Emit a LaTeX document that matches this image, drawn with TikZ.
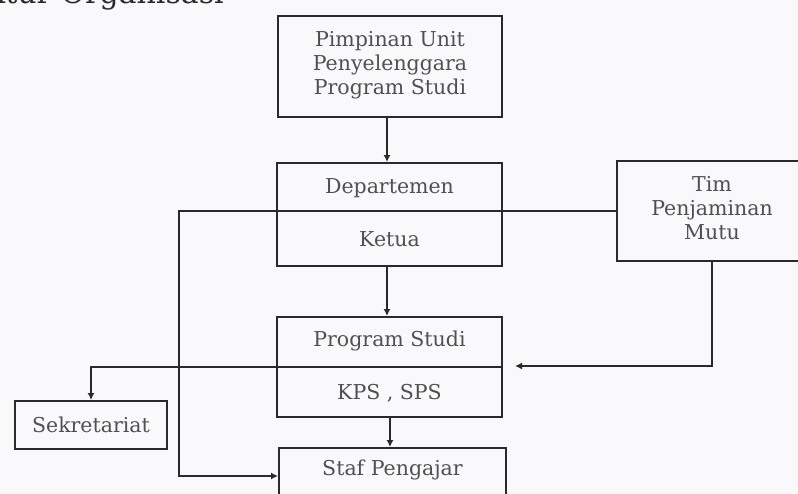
\documentclass[tikz,border=0pt]{standalone}
\usepackage{fontspec}
\setmainfont{DejaVu Serif}
\usetikzlibrary{arrows.meta,positioning}
\definecolor{ink}{HTML}{2A2A2A}
\definecolor{txt}{HTML}{505050}
\definecolor{paper}{HTML}{F9F9FB}
\tikzset{
  box/.style={draw=ink, line width=1.9pt, rectangle, inner sep=0pt},
  lbl/.style={text=txt, font=\fontsize{20.5}{24}\selectfont, align=center, inner sep=0pt},
  conn/.style={draw=ink, line width=1.8pt},
  arr/.style={conn, -{Latex[length=7pt,width=7pt]}},
}
\begin{document}
\begin{tikzpicture}[x=1pt,y=-1pt]
\useasboundingbox (0,0) rectangle (798,494);
\clip (0,0) rectangle (798,494);
\fill[paper] (0,0) rectangle (798,494);

% title (cut off at the top, as in the reference)
\node[anchor=base east, text=ink, font=\fontsize{30}{30}\selectfont, inner sep=0pt] (title) at (224,4) {Struktur Organisasi};

% boxes
\node[box, minimum width=224pt, minimum height=101pt] (b1) at (390,66.5) {};
\node[lbl] (b1t) at (390,65) {Pimpinan Unit\\Penyelenggara\\Program Studi};

\node[box, minimum width=225pt, minimum height=103pt] (b2) at (389.5,214.5) {};
\node[lbl] (b2a) at (389.5,188) {Departemen};
\node[lbl] (b2b) at (389.5,239) {Ketua};

\node[box, minimum width=190pt, minimum height=100pt] (tim) at (712,211) {};
\node[lbl] (timt) at (712,208) {Tim\\Penjaminan\\Mutu};

\node[box, minimum width=225pt, minimum height=100pt] (b3) at (389.5,367) {};
\node[lbl] (b3a) at (389.5,341) {Program Studi};
\node[lbl] (b3b) at (389.5,393) {KPS , SPS};

\node[box, minimum width=152pt, minimum height=48pt] (sek) at (91,425) {};
\node[lbl] (sekt) at (91,425) {Sekretariat};

\node[box, minimum width=227pt, minimum height=56pt] (staf) at (392.5,476) {};
\node[lbl] (staft) at (392.5,470) {Staf Pengajar};

% connectors
\coordinate (tipQ) at (515,366);
\coordinate (leftX) at (179,0);
\coordinate (sekX) at (91,0);

\draw[arr] (b1.south -| 387,0) -- (b2.north -| 387,0);
\draw[arr] (b2.south -| 387,0) -- (b3.north -| 387,0);
\draw[arr] (b3.south -| 390,0) -- (staf.north -| 390,0);

\draw[arr] (tim.west) -- (leftX |- tim.west) |- (staf.west);
\draw[arr] (tim.south) |- (tipQ);
\draw[arr] (b3.east) -- (sekX |- b3.east) -- (sek.north);
\end{tikzpicture}
\end{document}
